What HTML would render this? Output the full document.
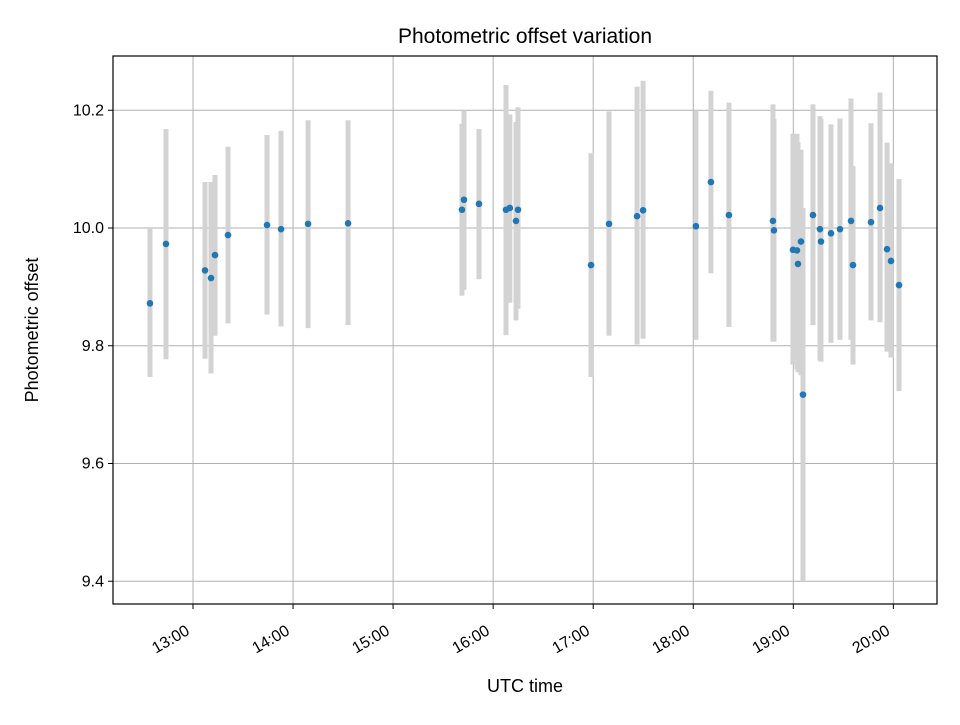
<!DOCTYPE html>
<html><head><meta charset="utf-8"><style>
body{margin:0;background:#fff;}
svg{font-family:"Liberation Sans","DejaVu Sans",sans-serif;}
</style></head><body>
<svg id="chart" width="960" height="720" xmlns="http://www.w3.org/2000/svg">
<rect width="960" height="720" fill="#fff"/>
<g id="grid"></g>
<g id="bars"></g>
<g id="points"></g>
<rect x="113" y="56" width="824" height="548" fill="none" stroke="#000" stroke-width="1.2"/>
<g id="ticks"></g>
<text x="525" y="43" text-anchor="middle" font-size="21">Photometric offset variation</text>
<text x="525" y="692" text-anchor="middle" font-size="18">UTC time</text>
<text transform="translate(38,330) rotate(-90)" text-anchor="middle" font-size="18">Photometric offset</text>
</svg>
<script>
// minutes since 13:00 UTC
const timesMin=[-25.8,-16.2,7.2,10.8,13.2,21,44.4,52.8,69,93,161.3,162.5,171.5,187.7,190,193.7,194.9,238.7,249.5,266.3,269.9,301.6,310.6,321.4,347.8,348.4,359.8,362.2,362.8,364.6,365.8,371.8,376,376.6,382.6,388,394.6,395.8,406.6,412,416.2,418.6,423.4];
const values=[9.872,9.973,9.928,9.915,9.954,9.988,10.005,9.998,10.007,10.008,10.031,10.048,10.041,10.031,10.034,10.012,10.031,9.937,10.007,10.02,10.03,10.003,10.078,10.022,10.012,9.996,9.963,9.962,9.939,9.977,9.717,10.022,9.998,9.977,9.991,9.998,10.012,9.937,10.01,10.034,9.964,9.944,9.903];
const upper=[10.0,10.168,10.078,10.078,10.09,10.138,10.158,10.165,10.183,10.183,10.177,10.2,10.168,10.243,10.193,10.18,10.205,10.127,10.198,10.24,10.25,10.2,10.233,10.213,10.21,10.185,10.16,10.16,10.145,10.133,10.034,10.21,10.19,10.185,10.176,10.186,10.22,10.105,10.178,10.23,10.145,10.11,10.083];
const lower=[9.747,9.777,9.778,9.753,9.817,9.838,9.853,9.833,9.83,9.835,9.885,9.895,9.913,9.818,9.873,9.843,9.863,9.747,9.817,9.802,9.812,9.81,9.923,9.832,9.807,9.807,9.768,9.76,9.755,9.75,9.4,9.835,9.775,9.773,9.805,9.81,9.81,9.768,9.843,9.84,9.79,9.78,9.723];
const yTicks=[9.4,9.6,9.8,10.0,10.2];
const xTickLabels=["13:00","14:00","15:00","16:00","17:00","18:00","19:00","20:00"];

const NS="http://www.w3.org/2000/svg";
const X=m=>193+m*100.05/60;
const Y=v=>228-(v-10)*588.75;
function mk(tag,attrs,parent){const e=document.createElementNS(NS,tag);for(const k in attrs)e.setAttribute(k,attrs[k]);document.getElementById(parent).appendChild(e);return e;}

yTicks.forEach(v=>{
  const g=mk('line',{x1:113,x2:937,y1:Y(v),y2:Y(v),stroke:'#b0b0b0','stroke-width':1},'grid');
  
  
  const t=mk('line',{x1:108,x2:113,y1:Y(v),y2:Y(v),stroke:'#000'},'ticks');
  
  
  const l=mk('text',{x:104,y:Y(v)+5,'text-anchor':'end','font-size':16},'ticks');
  l.textContent=v.toFixed(1);
  
  
});
xTickLabels.forEach((s,i)=>{
  const x=X(i*60);
  const g=mk('line',{x1:x,x2:x,y1:56,y2:604,stroke:'#b0b0b0','stroke-width':1},'grid');
  
  
  const t=mk('line',{x1:x,x2:x,y1:604,y2:609,stroke:'#000'},'ticks');
  
  
  const l=mk('text',{transform:`translate(${x-8},${624}) rotate(-30)`,'text-anchor':'end','font-size':16,dy:'0.7em'},'ticks');
  l.textContent=s;
  
  
});
timesMin.forEach((m,i)=>{
  const b=mk('rect',{x:X(m)-2.5,y:Y(upper[i]),width:5,height:Y(lower[i])-Y(upper[i]),fill:'#d3d3d3'},'bars');
  
  
});
timesMin.forEach((m,i)=>{
  const c=mk('circle',{cx:X(m),cy:Y(values[i]),r:3.3,fill:'#1f77b4'},'points');
  
  
});
</script>
</body></html>
